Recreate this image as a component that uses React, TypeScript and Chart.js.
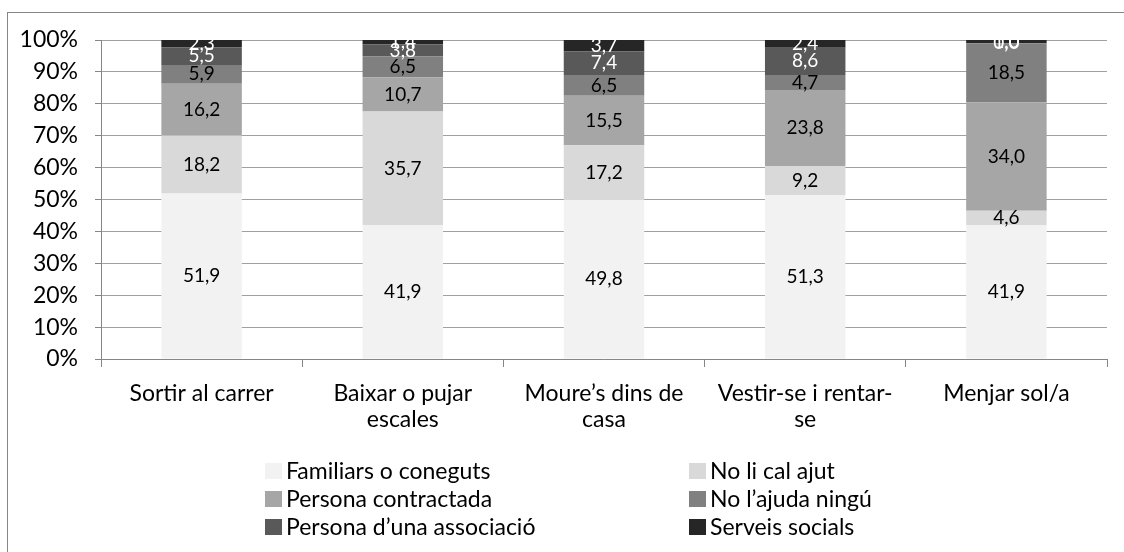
import React, { useEffect, useRef } from "react";
import { Chart, registerables } from "chart.js";

Chart.register(...registerables);

const categories: (string | string[])[] = [
  "Sortir al carrer",
  ["Baixar o pujar", "escales"],
  ["Moure’s dins de", "casa"],
  ["Vestir-se i rentar-", "se"],
  "Menjar sol/a",
];

const seriesNames = [
  "Familiars o coneguts",
  "No li cal ajut",
  "Persona contractada",
  "No l’ajuda ningú",
  "Persona d’una associació",
  "Serveis socials",
];

const familiars = [51.9, 41.9, 49.8, 51.3, 41.9];
const noLiCal = [18.2, 35.7, 17.2, 9.2, 4.6];
const contractada = [16.2, 10.7, 15.5, 23.8, 34.0];
const ningu = [5.9, 6.5, 6.5, 4.7, 18.5];
const associacio = [5.5, 3.8, 7.4, 8.6, 0.0];
const serveis = [2.3, 1.4, 3.7, 2.4, 1.0];

const yTicks = [0, 10, 20, 30, 40, 50, 60, 70, 80, 90, 100];

const colors = ["#F2F2F2", "#D9D9D9", "#A6A6A6", "#808080", "#595959", "#262626"];
const labelColors = ["#000", "#000", "#000", "#000", "#fff", "#fff"];

const FONT = "Lato, 'Open Sans', sans-serif";

export default function App() {
  const ref = useRef<HTMLCanvasElement | null>(null);

  useEffect(() => {
    document.body.style.margin = "0";
    const canvas = ref.current!;
    const values = [familiars, noLiCal, contractada, ningu, associacio, serveis];

    const labelsPlugin = {
      id: "segLabels",
      afterDatasetsDraw(chart: any) {
        const ctx = chart.ctx;
        ctx.save();
        ctx.font = `19px ${FONT}`;
        ctx.textAlign = "center";
        ctx.textBaseline = "middle";
        chart.data.datasets.forEach((ds: any, di: number) => {
          const meta = chart.getDatasetMeta(di);
          meta.data.forEach((el: any, i: number) => {
            const v = ds.data[i];
            const txt = v.toFixed(1).replace(".", ",");
            ctx.fillStyle = labelColors[di];
            ctx.fillText(txt, el.x, (el.y + el.base) / 2);
          });
        });
        ctx.restore();
      },
    };

    const legendPlugin = {
      id: "gridLegend",
      afterDraw(chart: any) {
        const ctx = chart.ctx;
        ctx.save();
        ctx.strokeStyle = "#868686";
        ctx.lineWidth = 1;
        ctx.strokeRect(7.5, 12.5, 1124, 550);
        ctx.font = `23px ${FONT}`;
        ctx.textBaseline = "middle";
        ctx.textAlign = "left";
        const colX = [265, 689];
        const rowY = [471, 499, 527];
        chart.data.datasets.forEach((ds: any, di: number) => {
          const col = di % 2;
          const row = Math.floor(di / 2);
          const x = colX[col];
          const y = rowY[row];
          ctx.fillStyle = ds.backgroundColor;
          ctx.fillRect(x, y - 8, 17, 16);
          ctx.fillStyle = "#000";
          ctx.fillText(ds.label, x + 21, y + 1);
        });
        ctx.restore();
      },
    };

    const chart = new Chart(canvas, {
      type: "bar",
      data: {
        labels: categories,
        datasets: values.map((d, i) => ({
          label: seriesNames[i],
          data: d,
          backgroundColor: colors[i],
          borderWidth: 0,
          categoryPercentage: 1,
          barPercentage: 0.4,
        })),
      },
      options: {
        animation: false,
        responsive: false,
        layout: { padding: { left: 0, right: 17, top: 40, bottom: 0 } },
        plugins: {
          legend: { display: false },
          tooltip: { enabled: false },
        },
        scales: {
          x: {
            stacked: true,
            afterFit: (s: any) => {
              s.height = 193;
            },
            grid: {
              display: true,
              drawOnChartArea: false,
              drawTicks: true,
              tickLength: 8,
              color: "#868686",
              offset: true,
            },
            border: { display: true, color: "#868686", width: 1 },
            ticks: {
              color: "#000",
              font: { family: FONT, size: 23, lineHeight: 1.15 },
              padding: 13,
              maxRotation: 0,
              autoSkip: false,
            },
          },
          y: {
            stacked: true,
            min: 0,
            max: 100,
            afterFit: (s: any) => {
              s.width = 101;
            },
            afterBuildTicks: (s: any) => {
              s.ticks = yTicks.map((v) => ({ value: v }));
            },
            grid: {
              color: "#A0A0A0",
              borderDash: [6, 5],
              drawTicks: true,
              tickLength: 6,
              tickColor: "#868686",
              tickBorderDash: [],
            },
            border: { display: true, color: "#868686", width: 1 },
            ticks: {
              color: "#000",
              font: { family: FONT, size: 23 },
              padding: 17,
              callback: (v: any) => `${v}%`,
            },
          },
        },
      },
      plugins: [labelsPlugin, legendPlugin],
    });

    return () => chart.destroy();
  }, []);

  return (
    <div style={{ position: "absolute", left: 0, top: 0, width: 1124, height: 552 }}>
      <canvas ref={ref} width={1124} height={552} />
    </div>
  );
}
